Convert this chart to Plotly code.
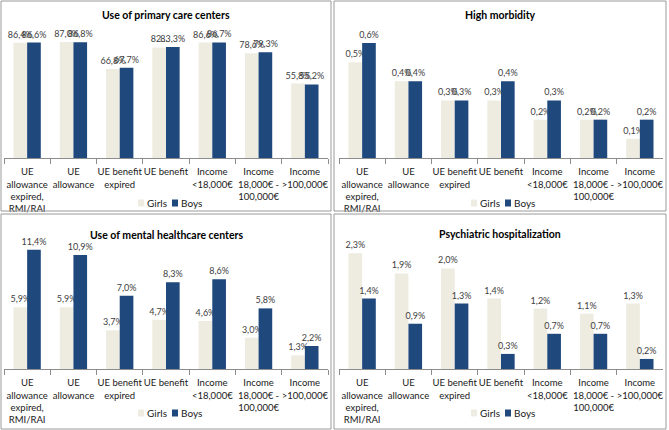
import plotly.graph_objects as go

W, H = 669, 430

categories = [
    "UE<br>allowance<br>expired,<br>RMI/RAI",
    "UE<br>allowance",
    "UE benefit<br>expired",
    "UE benefit",
    "Income<br>&lt;18,000€",
    "Income<br>18,000€ -<br>100,000€",
    "Income<br>&gt;100,000€",
]
series_names = ["Girls", "Boys"]

primary_girls = [86.4, 87.0, 66.8, 82.9, 86.6, 78.6, 55.8]
primary_boys = [86.6, 86.8, 67.7, 83.3, 86.7, 79.3, 55.2]
morbidity_girls = [0.5, 0.4, 0.3, 0.3, 0.2, 0.2, 0.1]
morbidity_boys = [0.6, 0.4, 0.3, 0.4, 0.3, 0.2, 0.2]
mental_girls = [5.9, 5.9, 3.7, 4.7, 4.6, 3.0, 1.3]
mental_boys = [11.4, 10.9, 7.0, 8.3, 8.6, 5.8, 2.2]
psych_girls = [2.3, 1.9, 2.0, 1.4, 1.2, 1.1, 1.3]
psych_boys = [1.4, 0.9, 1.3, 0.3, 0.7, 0.7, 0.2]

titles = ["Use of primary care centers", "High morbidity",
          "Use of mental healthcare centers", "Psychiatric hospitalization"]

GIRLS = "#EEECE1"
BOYS = "#1F497D"
FONT = "Lato"


def fmt(v):
    return f"{v:.1f}%".replace(".", ",")


def px_x(p):
    return p / W


def px_y(p):
    return 1 - p / H


panels = [
    dict(x0=4, x1=328, base=158, top=25, scale=116 / 87.0, ty=15, box=(1, 1, 331, 211), leg=203,
         g=primary_girls, b=primary_boys, trunc={3: "82..."}),
    dict(x0=339, x1=663, base=158, top=25, scale=191.7, ty=15, box=(334, 1, 666, 211), leg=203,
         g=morbidity_girls, b=morbidity_boys, trunc={}),
    dict(x0=4, x1=328, base=369, top=240, scale=10.45, ty=235, box=(1, 214, 331, 429), leg=413,
         g=mental_girls, b=mental_boys, trunc={}),
    dict(x0=339, x1=663, base=369, top=240, scale=50.3, ty=234, box=(334, 214, 666, 429), leg=413,
         g=psych_girls, b=psych_boys, trunc={}),
]

fig = go.Figure()
shapes = []
annotations = []
layout_axes = {}

for i, p in enumerate(panels):
    n = "" if i == 0 else str(i + 1)
    xa, ya = "x" + n, "y" + n
    gtext = [p["trunc"].get(k, fmt(v)) for k, v in enumerate(p["g"])]
    btext = [fmt(v) for v in p["b"]]
    for name, vals, txt, col in ((series_names[0], p["g"], gtext, GIRLS),
                                 (series_names[1], p["b"], btext, BOYS)):
        fig.add_trace(go.Bar(
            x=categories, y=vals, name=name, text=txt, textposition="outside",
            constraintext="none", cliponaxis=False,
            textfont=dict(size=9, color="#404040", family=FONT),
            marker=dict(color=col, line=dict(width=0)),
            xaxis=xa, yaxis=ya, showlegend=False, hoverinfo="x+y"))
    rng = (p["base"] - p["top"]) / p["scale"]
    layout_axes["xaxis" + n] = dict(
        domain=[px_x(p["x0"]), px_x(p["x1"])], anchor=ya,
        showline=True, linecolor="#8c8c8c", linewidth=1,
        ticks="outside", tickson="boundaries", ticklen=5, tickcolor="#8c8c8c",
        tickangle=0, automargin=False, ticklabelstandoff=5,
        tickfont=dict(size=9.5, color="#1a1a1a", family=FONT),
        showgrid=False, fixedrange=True)
    layout_axes["yaxis" + n] = dict(
        domain=[px_y(p["base"]), px_y(p["top"])], anchor=xa, range=[0, rng],
        visible=False, showgrid=False, zeroline=False, fixedrange=True)
    bx0, by0, bx1, by1 = p["box"]
    shapes.append(dict(type="rect", xref="paper", yref="paper",
                       x0=px_x(bx0), x1=px_x(bx1), y0=px_y(by1), y1=px_y(by0),
                       line=dict(color="#9a9a9a", width=1), fillcolor="rgba(0,0,0,0)"))
    cx = (bx0 + bx1) / 2
    annotations.append(dict(text="<b>" + titles[i] + "</b>", xref="paper", yref="paper",
                            x=px_x(cx), y=px_y(p["ty"]), showarrow=False,
                            xanchor="center", yanchor="middle",
                            font=dict(size=10.5, color="#000000", family=FONT)))
    off = bx0 - 1
    ly = p["leg"]
    for sx, col, label, tx in ((138, GIRLS, series_names[0], 145),
                               (172, BOYS, series_names[1], 179)):
        shapes.append(dict(type="rect", xref="paper", yref="paper",
                           x0=px_x(off + sx), x1=px_x(off + sx + 6),
                           y0=px_y(ly + 3.5), y1=px_y(ly - 3.5),
                           line=dict(width=0), fillcolor=col))
        annotations.append(dict(text=label, xref="paper", yref="paper",
                                x=px_x(off + tx), y=px_y(ly), showarrow=False,
                                xanchor="left", yanchor="middle",
                                font=dict(size=10, color="#1a1a1a", family=FONT)))

fig.update_layout(
    width=W, height=H, margin=dict(l=0, r=0, t=0, b=0),
    paper_bgcolor="white", plot_bgcolor="white",
    barmode="group", bargap=0.41, bargroupgap=0,
    shapes=shapes, annotations=annotations,
    font=dict(family=FONT),
    **layout_axes)

fig.write_html("out.html", config={"displayModeBar": False},
               post_script="document.body.style.margin='0';document.body.style.overflow='hidden';")
